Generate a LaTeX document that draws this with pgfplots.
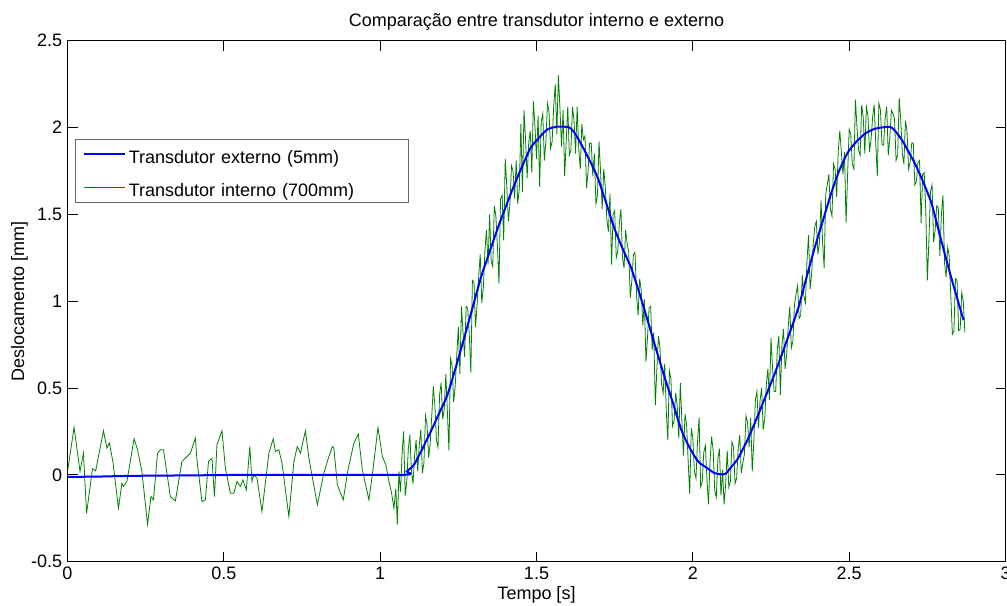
\documentclass[border=0pt]{standalone}
\usepackage{fontspec}
\setmainfont{Liberation Sans}
\usepackage{pgfplots}
\pgfplotsset{compat=1.18}

\definecolor{mblue}{RGB}{0,0,255}
\definecolor{mgreen}{RGB}{0,128,0}
\newcommand{\mf}{\fontsize{13.5}{16}\selectfont}

\begin{document}
\begin{tikzpicture}
\begin{axis}[
  name=ax,
  width=703.5pt, height=390.75pt, scale only axis,
  xmin=0, xmax=3, ymin=-0.5, ymax=2.5,
  xtick={0,0.5,1,1.5,2,2.5,3},
  ytick={-0.5,0,0.5,1,1.5,2,2.5},
  tick align=inside, major tick length=7.5pt,
  axis line style={black, line width=0.75pt},
  every tick/.style={black, line width=0.75pt},
  /pgf/number format/assume math mode=true,
  tick label style={font=\mf},
  xticklabel style={anchor=base, yshift=-13.7pt, inner sep=0pt},
  yticklabel style={anchor=east, xshift=-3.75pt, inner sep=0pt},
  title={Comparação entre transdutor interno e externo},
  title style={font=\mf, at={(axis description cs:0.5,1)}, anchor=base, yshift=4.5pt, inner sep=0pt},
  xlabel={Tempo [s]},
  xlabel style={font=\mf, at={(axis description cs:0.5,0)}, anchor=base, yshift=-28pt, inner sep=0pt},
  ylabel={Deslocamento [mm]},
  ylabel style={font=\mf, at={(axis description cs:0,0.5)}, anchor=base, yshift=32.6pt, inner sep=0pt},
  legend style={font=\mf, at={(0.008,0.8114)}, anchor=north west,
    draw=gray!80!black, line width=0.6pt, fill=white,
    inner xsep=5.8pt, inner ysep=0pt, column sep=2pt, row sep=2.2pt,
    nodes={inner sep=0pt, text width=204pt, align=left, text height=18.25pt, text depth=4.3pt}},
  legend cell align=left,
  legend image code/.code={\draw[#1] (0pt,0pt) -- (30.75pt,0pt);},
]
\addlegendimage{mblue, line width=1.5pt}
\addlegendentry{Transdutor externo (5mm)}
\addlegendimage{mgreen, line width=0.6pt}
\addlegendentry{Transdutor interno (700mm)}

% transdutor interno
\addplot[mgreen, line width=0.6pt, forget plot] table {
0.000 0.019
0.021 0.273
0.040 0.019
0.051 0.125
0.061 -0.221
0.080 0.035
0.090 0.023
0.115 0.254
0.126 0.154
0.134 0.183
0.145 0.077
0.163 -0.192
0.174 -0.048
0.179 -0.067
0.190 -0.038
0.213 0.208
0.224 0.144
0.238 0.019
0.256 -0.285
0.267 -0.125
0.275 -0.144
0.288 0.125
0.297 0.144
0.307 0.144
0.329 -0.125
0.345 -0.150
0.366 0.077
0.393 0.125
0.409 0.212
0.414 0.087
0.430 -0.154
0.441 -0.144
0.451 0.077
0.462 0.096
0.470 -0.125
0.478 0.173
0.494 0.254
0.505 0.038
0.521 -0.106
0.532 -0.106
0.542 -0.038
0.553 -0.067
0.561 -0.029
0.572 -0.087
0.583 0.163
0.590 -0.038
0.596 0.000
0.606 -0.019
0.622 -0.212
0.644 0.125
0.658 0.208
0.665 0.135
0.676 0.144
0.686 0.067
0.708 -0.240
0.724 0.077
0.735 0.163
0.745 0.125
0.761 0.254
0.772 0.096
0.799 -0.173
0.820 0.010
0.831 0.077
0.847 0.163
0.852 0.154
0.863 -0.058
0.882 -0.144
0.897 0.029
0.916 0.183
0.930 0.235
0.943 0.029
0.964 -0.144
0.975 0.000
0.993 0.273
1.007 0.106
1.018 0.058
1.028 -0.038
1.036 -0.10
1.044 -0.192
1.050 -0.08
1.055 -0.285
1.060 0.02
1.065 -0.10
1.070 0.12
1.075 0.25
1.080 -0.12
1.085 -0.04
1.090 0.15
1.095 0.23
1.100 0.02
1.105 -0.05
1.110 0.11
1.115 0.20
1.120 0.02
1.125 0.17
1.130 0.26
1.135 0.01
1.140 0.07
1.145 0.34
1.150 0.29
1.155 0.10
1.160 0.18
1.165 0.34
1.170 0.51
1.175 0.40
1.180 0.20
1.185 0.16
1.190 0.46
1.195 0.53
1.200 0.32
1.205 0.38
1.210 0.58
1.215 0.36
1.220 0.14
1.225 0.67
1.230 0.63
1.235 0.42
1.240 0.51
1.245 0.69
1.250 0.85
1.255 0.58
1.260 0.97
1.265 0.82
1.270 0.68
1.275 0.97
1.280 0.96
1.285 0.81
1.290 0.59
1.295 1.12
1.300 1.11
1.305 0.85
1.310 0.98
1.315 1.14
1.320 1.27
1.325 0.99
1.330 1.08
1.335 1.29
1.340 1.41
1.345 1.21
1.350 1.50
1.355 1.23
1.360 1.20
1.365 1.55
1.370 1.49
1.375 1.32
1.380 1.10
1.385 1.59
1.390 1.61
1.395 1.35
1.400 1.82
1.405 1.66
1.410 1.46
1.415 1.56
1.420 1.78
1.425 1.75
1.430 1.59
1.435 1.81
1.440 1.56
1.445 1.65
1.450 2.02
1.455 1.63
1.460 2.10
1.465 1.93
1.470 1.71
1.475 1.91
1.480 1.98
1.485 1.74
1.490 2.15
1.495 2.01
1.500 1.82
1.505 2.07
1.510 1.66
1.515 2.03
1.520 2.08
1.525 1.81
1.530 1.92
1.535 2.14
1.540 2.09
1.545 1.88
1.550 1.92
1.555 2.12
1.560 2.25
1.565 1.96
1.570 2.30
1.575 2.11
1.580 1.89
1.585 2.10
1.590 1.72
1.595 1.92
1.600 2.12
1.605 1.84
1.610 1.87
1.615 2.12
1.620 2.04
1.625 1.85
1.630 2.12
1.635 1.88
1.640 1.76
1.645 2.02
1.650 1.93
1.655 1.95
1.660 1.65
1.665 1.75
1.670 1.91
1.675 1.91
1.680 1.72
1.685 1.85
1.690 1.56
1.695 1.61
1.700 1.92
1.705 1.74
1.710 1.53
1.715 1.76
1.720 1.66
1.725 1.47
1.730 1.40
1.735 1.62
1.740 1.21
1.745 1.50
1.750 1.52
1.755 1.25
1.760 1.29
1.765 1.45
1.770 1.53
1.775 1.25
1.780 1.19
1.785 1.41
1.790 1.33
1.795 1.28
1.800 1.02
1.805 1.12
1.810 1.27
1.815 1.28
1.820 1.03
1.825 0.92
1.830 1.13
1.835 1.06
1.840 0.86
1.845 1.01
1.850 0.65
1.855 0.79
1.860 0.96
1.865 0.97
1.870 0.72
1.875 0.82
1.880 0.40
1.885 0.61
1.890 0.80
1.895 0.73
1.900 0.52
1.905 0.47
1.910 0.64
1.915 0.37
1.920 0.20
1.925 0.60
1.930 0.55
1.935 0.28
1.940 0.31
1.945 0.47
1.950 0.40
1.955 0.21
1.960 0.53
1.965 0.31
1.970 0.11
1.975 0.35
1.980 0.29
1.985 0.08
1.990 -0.11
1.995 0.27
2.000 0.21
2.005 0.02
2.010 -0.02
2.015 0.19
2.020 0.33
2.025 -0.07
2.030 -0.04
2.035 0.13
2.040 0.17
2.045 -0.02
2.050 -0.17
2.055 0.08
2.060 0.22
2.065 0.14
2.070 -0.09
2.075 -0.13
2.080 0.09
2.085 0.15
2.090 -0.12
2.095 0.03
2.100 -0.17
2.105 -0.05
2.110 0.14
2.115 -0.07
2.120 -0.04
2.125 0.19
2.130 0.16
2.135 -0.05
2.140 -0.02
2.145 0.15
2.150 0.23
2.155 0.01
2.160 0.07
2.165 0.12
2.170 0.34
2.175 0.30
2.180 0.16
2.185 0.33
2.190 0.02
2.195 0.19
2.200 0.43
2.205 0.48
2.210 0.27
2.215 0.43
2.220 0.50
2.225 0.26
2.230 0.32
2.235 0.52
2.240 0.61
2.245 0.43
2.250 0.79
2.255 0.61
2.260 0.48
2.265 0.48
2.270 0.72
2.275 0.80
2.280 0.46
2.285 0.75
2.290 0.84
2.295 0.61
2.300 0.69
2.305 0.85
2.310 0.97
2.315 0.73
2.320 0.77
2.325 0.98
2.330 1.04
2.335 1.09
2.340 0.90
2.345 0.92
2.350 1.15
2.355 1.03
2.360 0.99
2.365 1.23
2.370 1.38
2.375 1.07
2.380 1.16
2.385 1.33
2.390 1.43
2.395 1.46
2.400 1.27
2.405 1.34
2.410 1.58
2.415 1.34
2.420 1.19
2.425 1.62
2.430 1.67
2.435 1.73
2.440 1.53
2.445 1.49
2.450 1.79
2.455 1.76
2.460 1.60
2.465 1.86
2.470 1.98
2.475 1.86
2.480 1.73
2.485 1.86
2.490 1.45
2.495 1.73
2.500 1.99
2.505 1.96
2.510 1.79
2.515 1.76
2.520 2.16
2.525 2.00
2.530 1.87
2.535 1.84
2.540 2.13
2.545 2.06
2.550 1.85
2.555 2.12
2.560 2.07
2.565 1.86
2.570 1.93
2.575 2.06
2.580 2.13
2.585 1.91
2.590 1.72
2.595 2.14
2.600 2.10
2.605 1.90
2.610 1.90
2.615 2.05
2.620 2.12
2.625 1.84
2.630 1.94
2.635 2.10
2.640 2.08
2.645 2.05
2.650 1.81
2.655 1.84
2.660 2.17
2.665 2.04
2.670 1.85
2.675 1.79
2.680 2.04
2.685 1.98
2.690 1.76
2.695 1.80
2.700 1.91
2.705 1.91
2.710 1.67
2.715 1.69
2.720 1.80
2.725 1.81
2.730 1.45
2.735 1.73
2.740 1.74
2.745 1.52
2.750 1.12
2.755 1.35
2.760 1.63
2.765 1.67
2.770 1.34
2.775 1.41
2.780 1.55
2.785 1.54
2.790 1.26
2.795 1.50
2.800 1.61
2.805 1.22
2.810 1.14
2.815 1.31
2.820 1.26
2.825 1.03
2.830 0.81
2.835 0.83
2.840 1.13
2.845 1.12
2.850 0.83
2.855 0.84
2.860 1.05
2.865 1.00
2.870 0.82
};

% transdutor externo
\addplot[mblue, line width=1.5pt, smooth, tension=0.4, forget plot] table {
0 -0.012
0.1 -0.010
0.2 -0.006
0.4 -0.003
0.6 0
1.071 0
1.085 0.02
1.108 0.058
1.135 0.15
1.162 0.25
1.19 0.36
1.215 0.46
1.242 0.62
1.269 0.79
1.295 0.96
1.322 1.135
1.349 1.28
1.376 1.42
1.403 1.55
1.429 1.67
1.455 1.78
1.482 1.885
1.51 1.945
1.536 1.99
1.568 2.005
1.605 2.0
1.625 1.96
1.643 1.904
1.67 1.81
1.696 1.71
1.722 1.57
1.749 1.42
1.776 1.30
1.803 1.19
1.83 1.04
1.856 0.885
1.883 0.72
1.910 0.56
1.937 0.41
1.963 0.26
1.99 0.155
2.017 0.077
2.045 0.04
2.07 0.01
2.102 0.004
2.125 0.05
2.145 0.096
2.177 0.21
2.203 0.32
2.23 0.44
2.257 0.56
2.284 0.69
2.31 0.82
2.337 0.96
2.364 1.14
2.39 1.31
2.417 1.47
2.444 1.63
2.47 1.76
2.497 1.86
2.524 1.92
2.551 1.965
2.578 1.99
2.604 2.0
2.636 2.0
2.668 1.93
2.69 1.86
2.711 1.79
2.738 1.68
2.764 1.56
2.79 1.38
2.818 1.19
2.84 1.05
2.866 0.89
};
\end{axis}
\pgfresetboundingbox
\path[use as bounding box] ([xshift=-50.625pt,yshift=-33.2pt]ax.south west) rectangle ([xshift=1.125pt,yshift=30.5pt]ax.north east);
\end{tikzpicture}
\end{document}
